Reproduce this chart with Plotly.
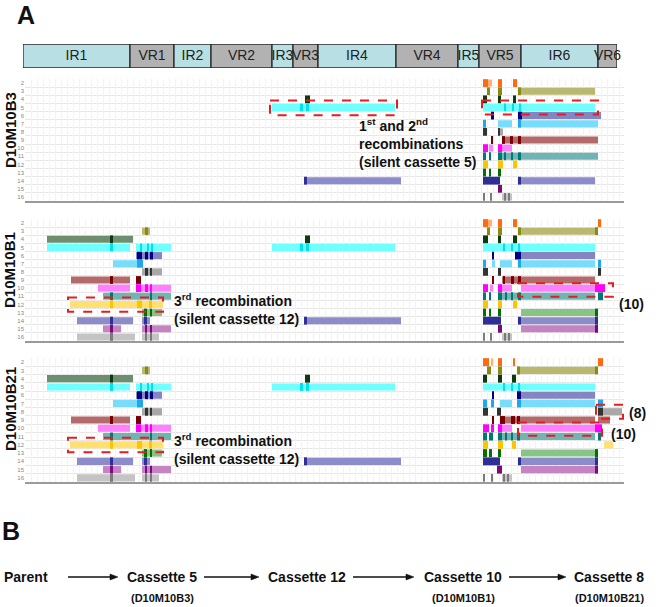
import plotly.graph_objects as go

W, H = 659, 607

# ---------------- data ----------------
REGION_LABELS = ["IR1", "VR1", "IR2", "VR2", "IR3", "VR3", "IR4", "VR4", "IR5", "VR5", "IR6", "VR6"]
REGION_EDGES = [23, 130, 174, 211, 272, 293, 318, 396, 458, 479, 521, 598, 617]

ROW_IDS = list(range(2, 17))  # silent cassette rows
DARK_COLORS = ["#FF6A10", "#8A8A10", "#0E3A12", "#00E0EE", "#000080", "#1EA8E8", "#333333",
               "#7A0000", "#FF00FF", "#007878", "#FFC400", "#007000", "#2E2E96", "#7A0A7A", "#7A7A7A"]
LIGHT_COLORS = ["#FFB070", "#B8B870", "#6E8E70", "#70FFFF", "#8585C4", "#78DCFA", "#A8A8A8",
                "#B46A6A", "#FF80FF", "#70B4B4", "#FFE070", "#88C488", "#8C8CCA", "#C484C4", "#C4C4C4"]

# (row, start, end) -- shared between clones
MID_LIGHT = [(5, 272, 395), (14, 304, 401)]
MID_DARK = [(4, 305, 310), (5, 300, 303), (5, 306, 309), (14, 304, 307)]

# D10M10B3 (first clone) right part
B3_LIGHT = [(2, 488, 492), (3, 521, 595), (5, 483, 595), (6, 518, 601), (7, 498, 512), (7, 521, 598),
            (8, 498, 503), (9, 502, 598), (10, 489, 493), (10, 498, 512), (11, 498, 598),
            (14, 518, 595), (16, 502, 512)]
B3_DARK = [(2, 483, 488), (2, 498, 502), (2, 513, 517), (3, 487, 490), (3, 498, 502), (3, 518, 521),
           (4, 483, 487), (4, 498, 501), (4, 513, 516), (5, 504, 506), (5, 512, 514), (5, 519, 521),
           (6, 491, 494), (6, 518, 522), (7, 483, 486), (7, 518, 521), (8, 483, 487), (8, 498, 500),
           (9, 491, 493), (9, 502, 505), (9, 510, 513), (9, 518, 521), (10, 483, 488), (10, 498, 502),
           (11, 483, 486), (11, 489, 491), (11, 498, 502), (11, 504, 506), (11, 511, 513), (11, 518, 521),
           (12, 483, 488), (12, 498, 503), (12, 513, 517), (13, 483, 486), (13, 489, 491), (13, 498, 501),
           (14, 483, 500), (14, 518, 521), (15, 498, 502),
           (16, 483, 485), (16, 490, 492), (16, 504, 506), (16, 508, 510)]

# left part shared by D10M10B1 and D10M10B21
LEFT_LIGHT = [(3, 142, 150), (4, 47, 133), (5, 47, 130), (5, 136, 171), (6, 136, 162), (7, 113, 143),
              (8, 142, 162), (9, 71, 130), (10, 98, 130), (10, 136, 171), (11, 103, 171), (12, 70, 163),
              (13, 142, 162), (14, 77, 133), (14, 142, 150), (15, 103, 121), (15, 142, 171),
              (16, 77, 135), (16, 142, 159)]
LEFT_DARK = [(3, 145, 148), (4, 110, 113), (5, 110, 113), (5, 140, 142), (5, 147, 149), (5, 151, 153),
             (6, 137, 142), (6, 145, 148), (6, 150, 153), (7, 137, 143), (8, 145, 148), (8, 150, 152),
             (9, 110, 113), (9, 136, 141), (10, 136, 141), (10, 145, 148), (10, 150, 152),
             (11, 110, 113), (11, 150, 152), (12, 110, 113), (12, 137, 142), (12, 149, 152),
             (13, 144, 147), (13, 150, 152), (14, 110, 113), (14, 144, 147), (15, 110, 113),
             (15, 145, 147), (15, 150, 152), (16, 110, 113), (16, 145, 147), (16, 150, 152)]

# D10M10B1 right part
B1_LIGHT = [(2, 488, 492), (3, 521, 598), (5, 483, 595), (6, 515, 595), (7, 492, 495), (7, 500, 512),
            (7, 521, 595), (9, 502, 595), (10, 490, 493), (10, 498, 512), (10, 521, 605), (11, 498, 595),
            (13, 521, 598), (14, 521, 598), (15, 521, 598), (16, 502, 512)]
B1_DARK = [(2, 483, 488), (2, 498, 502), (2, 513, 517), (2, 598, 601), (3, 487, 490), (3, 498, 502),
           (3, 518, 521), (3, 595, 598), (4, 483, 488), (4, 498, 501), (4, 513, 517),
           (5, 503, 505), (5, 511, 513), (5, 518, 520), (6, 492, 494), (6, 515, 521),
           (7, 483, 486), (7, 518, 521), (7, 598, 601), (8, 483, 488), (8, 498, 501), (8, 598, 601),
           (9, 492, 494), (9, 503, 505), (9, 511, 514), (9, 518, 521),
           (10, 483, 488), (10, 498, 502), (10, 595, 605),
           (11, 483, 486), (11, 489, 491), (11, 498, 502), (11, 505, 507), (11, 511, 513), (11, 518, 521),
           (11, 598, 603), (12, 483, 488), (12, 498, 502), (12, 513, 517),
           (13, 483, 486), (13, 489, 491), (13, 498, 501), (13, 595, 598),
           (14, 483, 501), (14, 518, 521), (14, 595, 598), (15, 498, 502), (15, 595, 598),
           (16, 483, 485), (16, 490, 492), (16, 504, 506), (16, 508, 510)]

# D10M10B21 right part
B21_LIGHT = [(2, 491, 493), (3, 520, 597), (5, 483, 595), (6, 517, 595), (7, 500, 512), (7, 521, 595),
             (8, 603, 622), (9, 500, 595), (9, 598, 610), (10, 498, 512), (10, 521, 602), (11, 498, 595),
             (12, 604, 613), (13, 521, 598), (14, 521, 598), (15, 521, 598), (16, 502, 512)]
B21_DARK = [(2, 483, 489), (2, 498, 502), (2, 513, 515), (2, 598, 603), (3, 487, 491), (3, 498, 502),
            (3, 517, 520), (3, 595, 598), (4, 483, 487), (4, 498, 502), (4, 512, 516),
            (5, 503, 505), (5, 511, 513), (5, 518, 520), (6, 492, 494), (6, 517, 521),
            (7, 483, 487), (7, 491, 494), (7, 517, 521), (7, 598, 603),
            (8, 483, 488), (8, 497, 501), (8, 598, 603),
            (9, 492, 494), (9, 500, 505), (9, 511, 515), (9, 517, 520),
            (10, 483, 489), (10, 491, 494), (10, 498, 502), (10, 595, 602),
            (11, 483, 487), (11, 489, 493), (11, 498, 502), (11, 505, 507), (11, 511, 513), (11, 517, 520),
            (11, 598, 601), (12, 483, 488), (12, 498, 503), (12, 512, 516),
            (13, 483, 487), (13, 489, 492), (13, 498, 501), (13, 595, 598),
            (14, 483, 500), (14, 518, 521), (14, 595, 598), (15, 497, 502), (15, 595, 598),
            (16, 483, 485), (16, 491, 493), (16, 503, 505), (16, 507, 509)]

# highlighted recombination boxes: (x0, x1, row0, row1)
B3_BOXES = [(270, 397, 4.15, 5.95), (482, 598, 4.15, 5.85)]
B1_BOXES = [(68, 163, 11.15, 12.9), (518, 613, 9.4, 11.05)]
B21_BOXES = [(68, 163, 11.15, 12.9), (518, 602, 9.3, 10.9), (596, 623, 7.15, 8.85)]

CLONES = ["D10M10B3", "D10M10B1", "D10M10B21"]
PATH_STEPS = ["Parent", "Cassette 5", "Cassette 12", "Cassette 10", "Cassette 8"]
PATH_CLONES = ["", "(D10M10B3)", "", "(D10M10B1)", "(D10M10B21)"]

# ---------------- layout helpers ----------------
FONT = "Arial, 'Liberation Sans', sans-serif"


def px(x):
    return x / W


def py(y):
    return 1 - y / H


fig = go.Figure()

# header bar of regions
starts = REGION_EDGES[:-1]
ends = REGION_EDGES[1:]
fig.add_trace(go.Bar(
    orientation="h", y=[0] * len(REGION_LABELS), x=[e - s for s, e in zip(starts, ends)], base=starts,
    width=1, marker=dict(color=["#B8E0E4" if l.startswith("IR") else "#B2B2B2" for l in REGION_LABELS],
                         line=dict(color="#2A2A2A", width=1.3)),
    hoverinfo="skip", xaxis="x", yaxis="y", showlegend=False))
fig.add_trace(go.Scatter(
    x=[(s + e) / 2 for s, e in zip(starts, ends)], y=[0] * len(REGION_LABELS), mode="text",
    text=REGION_LABELS, textfont=dict(family=FONT, size=14, color="#222"), cliponaxis=False,
    hoverinfo="skip", xaxis="x", yaxis="y", showlegend=False))

panels = [
    (MID_LIGHT + B3_LIGHT, MID_DARK + B3_DARK, B3_BOXES, (79, 201)),
    (LEFT_LIGHT + MID_LIGHT + B1_LIGHT, LEFT_DARK + MID_DARK + B1_DARK, B1_BOXES, (219, 341)),
    (LEFT_LIGHT + MID_LIGHT + B21_LIGHT, LEFT_DARK + MID_DARK + B21_DARK, B21_BOXES, (358, 482)),
]

XMIN, XMAX = 25, 624
shapes = []
layout_axes = {}
for i, (light, dark, boxes, (top, bottom)) in enumerate(panels, start=2):
    xa, ya = f"x{i}", f"y{i}"
    for segs, cols, wdt in ((light, LIGHT_COLORS, 0.86), (dark, DARK_COLORS, 0.96)):
        fig.add_trace(go.Bar(
            orientation="h", y=[r for r, s, e in segs], x=[e - s for r, s, e in segs],
            base=[s for r, s, e in segs], width=wdt,
            marker=dict(color=[cols[r - 2] for r, s, e in segs], line=dict(width=0)),
            hoverinfo="skip", xaxis=xa, yaxis=ya, showlegend=False))
    for x0, x1, r0, r1 in boxes:
        shapes.append(dict(type="rect", xref=xa, yref=ya, x0=x0, x1=x1, y0=r0, y1=r1,
                           line=dict(color="#E02020", width=2, dash="dash"), layer="above"))
    layout_axes[f"xaxis{i}"] = dict(domain=[px(XMIN), px(XMAX)], range=[XMIN, XMAX], anchor=ya,
                                    showgrid=True, gridcolor="#F3F3F3", gridwidth=1, tick0=XMIN, dtick=6,
                                    showticklabels=False, ticks="", zeroline=False, showline=True,
                                    linecolor="#9A9A9A", linewidth=1.5, fixedrange=True)
    layout_axes[f"yaxis{i}"] = dict(domain=[py(bottom), py(top)], range=[16.5, 1.5], anchor=xa,
                                    tickvals=ROW_IDS, ticktext=[str(r) for r in ROW_IDS],
                                    tickfont=dict(family=FONT, size=6, color="#888"), ticks="",
                                    showgrid=False, zeroline=False, showline=False, ticklen=0,
                                    minor=dict(tick0=1.5, dtick=1, showgrid=True, gridcolor="#E6E6E6",
                                               gridwidth=1),
                                    fixedrange=True)

annotations = []


def txt(x, y, s, size, **kw):
    d = dict(x=px(x), y=py(y), xref="paper", yref="paper", text=s, showarrow=False,
             xanchor="center", yanchor="middle",
             font=dict(family=FONT, size=size, color="#111"))
    d.update(kw)
    annotations.append(d)


txt(26, 15, "<b>A</b>", 25)
txt(11, 531, "<b>B</b>", 25)
for name, yc in zip(CLONES, (130, 270, 409)):
    txt(10, yc, f"<b>{name}</b>", 15, textangle=-90)

txt(357, 143, "<b>1<sup>st</sup> and 2<sup>nd</sup><br>recombinations<br>(silent cassette 5)</b>", 14,
    xanchor="left", align="left")
txt(172, 309, "<b>3<sup>rd</sup> recombination<br>(silent cassette 12)</b>", 14, xanchor="left", align="left")
txt(172, 449, "<b>3<sup>rd</sup> recombination<br>(silent cassette 12)</b>", 14, xanchor="left", align="left")
txt(617, 304, "<b>(10)</b>", 14, xanchor="left")
txt(609, 434, "<b>(10)</b>", 14, xanchor="left")
txt(627, 413, "<b>(8)</b>", 14, xanchor="left")

# panel B: pathway
step_x = [26, 162, 307, 463, 609]
for label, sub, xc in zip(PATH_STEPS, PATH_CLONES, step_x):
    txt(xc, 577, f"<b>{label}</b>", 14)
    if sub:
        txt(xc, 598, f"<b>{sub}</b>", 11)
arrows = [(68, 118), (204, 259), (353, 414), (509, 566)]
for a0, a1 in arrows:
    shapes.append(dict(type="line", xref="paper", yref="paper", x0=px(a0), x1=px(a1 - 6),
                       y0=py(577), y1=py(577), line=dict(color="#111", width=1.6)))
    shapes.append(dict(type="path", xref="paper", yref="paper",
                       path=f"M {px(a1)} {py(577)} L {px(a1 - 8)} {py(574)} L {px(a1 - 8)} {py(580)} Z",
                       fillcolor="#111", line=dict(color="#111", width=0.5)))

fig.update_layout(
    width=W, height=H, margin=dict(l=0, r=0, t=0, b=0), paper_bgcolor="white", plot_bgcolor="white",
    barmode="overlay", showlegend=False,
    xaxis=dict(domain=[px(REGION_EDGES[0]), px(REGION_EDGES[-1])], range=[REGION_EDGES[0], REGION_EDGES[-1]],
               visible=False, fixedrange=True),
    yaxis=dict(domain=[py(68), py(44)], range=[-0.5, 0.5], visible=False, fixedrange=True),
    shapes=shapes, annotations=annotations, **layout_axes)

fig.write_html("out.html", config={"displayModeBar": False},
               post_script="document.body.style.margin='0';document.body.style.padding='0';")
